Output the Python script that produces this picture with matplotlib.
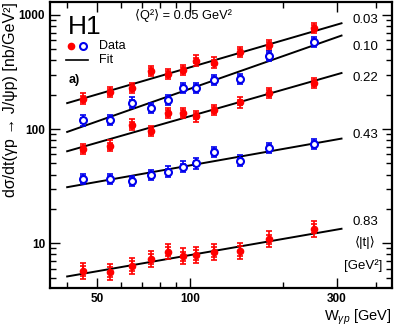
import numpy as np
import matplotlib.pyplot as plt
from matplotlib.ticker import FixedLocator, NullFormatter

plt.rcParams['font.family'] = ['Liberation Sans', 'DejaVu Sans']
plt.rcParams['mathtext.fontset'] = 'custom'
plt.rcParams['mathtext.rm'] = 'Liberation Sans'
plt.rcParams['mathtext.it'] = 'Liberation Sans:italic'

# W bins (GeV)
w = [45, 55, 65, 75, 85, 95, 105, 120, 145, 180, 253]

# d sigma / dt in nb/GeV^2 for each <|t|>
t_labels = ['0.03', '0.10', '0.22', '0.43', '0.83']
y_003 = [185, 211, 229, 324, 303, 331, 399, 383, 472, 547, 766]
y_010 = [119, 120, 171, 153, 181, 228, 228, 270, 274, 438, 578]
y_022 = [67.2, 71.7, 109.5, 95.7, 138.5, 138.5, 129.4, 148, 171.4, 207, 253]
y_043 = [36.7, 36.7, 35.0, 39.5, 42.5, 47.0, 50.0, 62.7, 53.1, 68.5, 74.2]
y_083 = [5.73, 5.61, 6.34, 7.25, 8.46, 7.70, 7.91, 8.39, 8.55, 10.84, 13.4]

# relative errors (stat, total)
err_stat = [0.06, 0.06, 0.06, 0.06, 0.10]
err_tot = [0.11, 0.11, 0.11, 0.11, 0.17]

# fit lines: values at the two ends
fit_w = [40, 310]
fit_003 = [169, 846]
fit_010 = [94.5, 660]
fit_022 = [64, 310]
fit_043 = [31, 82.6]
fit_083 = [5.12, 13.4]

series = [y_003, y_010, y_022, y_043, y_083]
fits = [fit_003, fit_010, fit_022, fit_043, fit_083]
colors = ['#ff0000', '#0000ee', '#ff0000', '#0000ee', '#ff0000']
filled = [True, False, True, False, True]

fig = plt.figure(figsize=(3.94, 3.27), dpi=100)
ax = fig.add_axes([0.127, 0.119, 0.868, 0.875])
ax.set_xscale('log')
ax.set_yscale('log')

for ys, fv, c, fl, es, et in zip(series, fits, colors, filled, err_stat, err_tot):
    ax.plot(fit_w, fv, color='black', lw=1.4, zorder=2)
    ys = np.array(ys)
    ax.errorbar(w, ys, yerr=[ys * et / (1 + et), ys * et], fmt='none',
                ecolor=c, elinewidth=1.2, capsize=2.5, capthick=1.2, zorder=3)
    ax.errorbar(w, ys, yerr=[ys * es / (1 + es), ys * es], fmt='none',
                ecolor=c, elinewidth=1.2, capsize=2.5, capthick=1.2, zorder=3)
    if fl:
        ax.plot(w, ys, 'o', color=c, ms=4.5, zorder=4)
    else:
        ax.plot(w, ys, 'o', mfc='white', mec=c, mew=1.5, ms=5, zorder=4)

ax.set_xlim(35.2, 452)
ax.set_ylim(4.05, 1300)

ax.xaxis.set_major_locator(FixedLocator([50, 100, 300]))
ax.xaxis.set_minor_locator(FixedLocator([40, 60, 70, 80, 90, 200, 400]))
ax.set_xticklabels(['50', '100', '300'])
ax.xaxis.set_minor_formatter(NullFormatter())
ax.yaxis.set_major_locator(FixedLocator([10, 100, 1000]))
ax.yaxis.set_minor_locator(FixedLocator([k * 10.0 ** e for e in range(0, 4) for k in range(2, 10)]))
ax.set_yticklabels(['10', '100', '1000'])
ax.yaxis.set_minor_formatter(NullFormatter())
ax.tick_params(which='both', direction='in', top=True, right=True, width=1.0)
ax.tick_params(which='major', length=7, labelsize=8.5)
ax.tick_params(which='minor', length=4)
for lab in ax.get_xticklabels() + ax.get_yticklabels():
    lab.set_fontweight('bold')
for sp in ax.spines.values():
    sp.set_linewidth(1.6)

ax.set_ylabel('dσ/dt(γp → J/ψp) [nb/GeV²]', fontsize=11.5, loc='top', labelpad=0.5)
ax.set_xlabel(r'W$_{\gamma p}$ [GeV]', fontsize=10.5, loc='right', labelpad=2)

# annotations
ax.text(0.053, 0.955, 'H1', transform=ax.transAxes, fontsize=19, va='top')
ax.text(0.249, 0.951, '⟨Q²⟩ = 0.05 GeV²', transform=ax.transAxes, fontsize=9.2, va='center')
ax.text(0.053, 0.727, 'a)', transform=ax.transAxes, fontsize=9, fontweight='bold', va='center')

# legend drawn by hand
ax.plot([0.061], [0.846], 'o', color='#ff0000', ms=4.5, transform=ax.transAxes)
ax.plot([0.097], [0.846], 'o', mfc='white', mec='#0000ee', mew=1.5, ms=5, transform=ax.transAxes)
ax.text(0.143, 0.846, 'Data', transform=ax.transAxes, fontsize=9, va='center')
ax.plot([0.047, 0.111], [0.797, 0.797], color='black', lw=1.2, transform=ax.transAxes)
ax.text(0.143, 0.797, 'Fit', transform=ax.transAxes, fontsize=9, va='center')

# <|t|> labels on the right
t_y = [0.937, 0.843, 0.734, 0.535, 0.231]
for lab, yy in zip(t_labels, t_y):
    ax.text(0.921, yy, lab, transform=ax.transAxes, fontsize=9.5, ha='center', va='center')
ax.text(0.921, 0.161, '⟨|t|⟩', transform=ax.transAxes, fontsize=9.5, ha='center', va='center')
ax.text(0.915, 0.080, '[GeV²]', transform=ax.transAxes, fontsize=9.5, ha='center', va='center')

fig.savefig('out.png', dpi=100)
